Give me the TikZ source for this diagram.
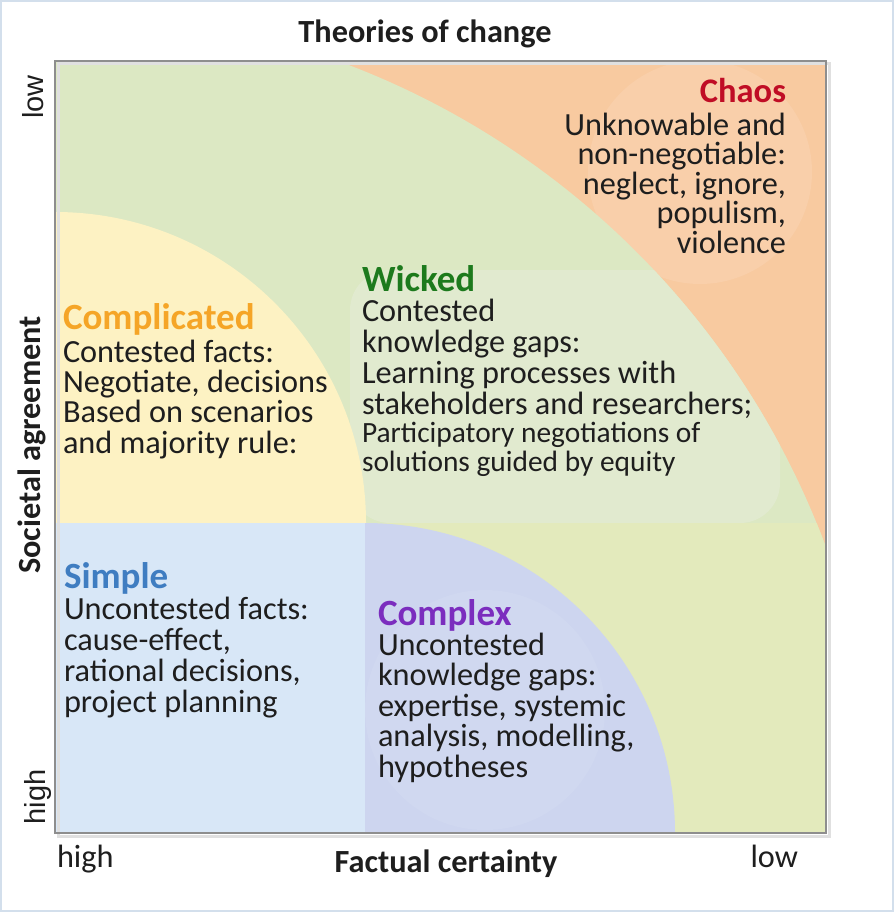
\documentclass[tikz,border=0pt]{standalone}
\usepackage{fontspec}
\setmainfont{Carlito}
\newfontfamily\arialfont{Liberation Sans}
\definecolor{chaosbg}{HTML}{F8CAA0}
\definecolor{chaoslt}{HTML}{F9CFAA}
\definecolor{greenbg}{HTML}{DCE8C3}
\definecolor{wickedlt}{HTML}{E1EACF}
\definecolor{yellowbg}{HTML}{FDF2C3}
\definecolor{bluebg}{HTML}{D8E7F7}
\definecolor{purplebg}{HTML}{CDD5EF}
\definecolor{purplelt}{HTML}{D0D8F0}
\definecolor{ygreen}{HTML}{E3EABC}
\definecolor{chaosred}{HTML}{C00D25}
\definecolor{wickedgreen}{HTML}{1D7A1D}
\definecolor{complorange}{HTML}{F5A527}
\definecolor{simpleblue}{HTML}{3F7DC1}
\definecolor{complexpurple}{HTML}{7B2DBE}
\definecolor{boxgray}{HTML}{8E8E8E}
\definecolor{framecol}{HTML}{D3DFEC}
\definecolor{textcol}{HTML}{1E1E1E}
\begin{document}
\begin{tikzpicture}[x=1pt,y=-1pt,
  lbl/.style={inner sep=0pt, outer sep=0pt, text=textcol},
  hdr/.style={lbl, anchor=base west, font=\fontsize{37}{37}\selectfont\bfseries},
  body/.style={lbl, anchor=base west, align=left, font=\fontsize{32.3}{30.5}\selectfont},
  axislbl/.style={lbl, font=\fontsize{32.3}{32}\selectfont},
  axisbold/.style={lbl, font=\fontsize{32.3}{32}\selectfont\bfseries},
  sidelbl/.style={lbl, rotate=90, anchor=base, font=\arialfont\fontsize{29}{29}\selectfont},
]
\useasboundingbox (0,0) rectangle (894,912);
\fill[white] (0,0) rectangle (894,912);
\draw[framecol, line width=1.5pt] (1,1) rectangle (893,911);

% background regions
\begin{scope}
  \clip (55,61) rectangle (826,833);
  \fill[chaosbg] (55,61) rectangle (826,833);
  \fill[chaoslt] (700,172) circle (112);
  \fill[greenbg] (55,833) circle (822);
  \begin{scope}
    \clip (55,833) circle (822);
    \fill[wickedlt, rounded corners=40] (350,270) rectangle (780,523);
    \fill[ygreen] (365,523) rectangle (826,833);
  \end{scope}
  \fill[yellowbg] (55,523) circle (311);
  \fill[bluebg] (55,523) rectangle (365,833);
  \begin{scope}
    \clip (365,523) rectangle (826,833);
    \fill[purplebg] (365,833) circle (310);
    \fill[purplelt] (485,710) circle (120);
  \end{scope}
\end{scope}
\draw[black!12, line width=3pt] (58,64) rectangle (829,836);
\draw[boxgray, line width=2.2pt] (55,61) rectangle (826,833);

% title and axes
\node[axisbold, anchor=base] (title) at (425,43) {Theories of change};
\node[axislbl, anchor=base west] (xhigh) at (57,867) {high};
\node[axisbold, anchor=base] (xlabel) at (446,872) {Factual certainty};
\node[axislbl, anchor=base east] (xlow) at (798,867) {low};
\node[sidelbl] (ylow) at (43,97) {low};
\node[sidelbl] (yhigh) at (45,797) {high};
\node[lbl, rotate=90, anchor=base, font=\fontsize{32.3}{32}\selectfont\bfseries] (ylabel) at (40,445) {Societal agreement};

% Chaos (anchor = baseline of the last line)
\node[hdr, anchor=base east, text=chaosred, font=\fontsize{34.5}{34.5}\selectfont\bfseries] (chaosh) at (786,103) {Chaos};
\node[body, anchor=base east, align=right, font=\fontsize{32.3}{29.5}\selectfont] (chaosb) at (786,253)
  {Unknowable and\\non-negotiable:\\neglect, ignore,\\populism,\\violence};

% Wicked
\node[hdr, text=wickedgreen] (wickedh) at (362,291) {Wicked};
\node[body, font=\fontsize{32.3}{30.7}\selectfont] (wickedb) at (362,414)
  {Contested\\knowledge gaps:\\Learning processes with\\stakeholders and researchers;};
\node[body, font=\fontsize{29.4}{29}\selectfont] (wickedc) at (362,471)
  {Participatory negotiations of\\solutions guided by equity};

% Complicated
\node[hdr, text=complorange] (complh) at (63,329) {Complicated};
\node[body, font=\fontsize{32.3}{30.3}\selectfont] (complb) at (63,453)
  {Contested facts:\\Negotiate, decisions\\Based on scenarios\\and majority rule:};

% Simple
\node[hdr, text=simpleblue] (simpleh) at (64,588) {Simple};
\node[body, font=\fontsize{32.3}{30.7}\selectfont] (simpleb) at (64,712)
  {Uncontested facts:\\cause-effect,\\rational decisions,\\project planning};

% Complex
\node[hdr, text=complexpurple] (complexh) at (378,625) {Complex};
\node[body, font=\fontsize{32.3}{30.5}\selectfont] (complexb) at (378,777)
  {Uncontested\\knowledge gaps:\\expertise, systemic\\analysis, modelling,\\hypotheses};
\end{tikzpicture}
\end{document}
